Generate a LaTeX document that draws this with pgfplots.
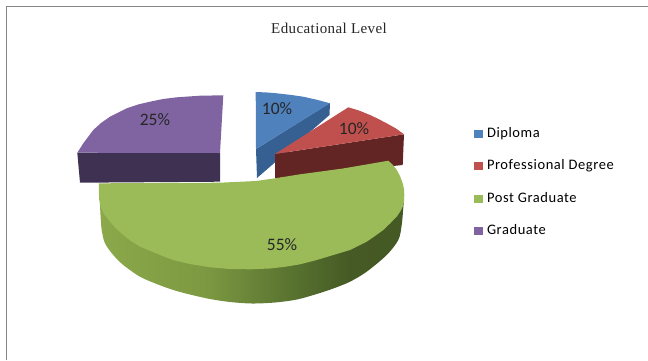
\documentclass[border=0pt]{standalone}
\usepackage{fontspec}
\setmainfont{Carlito}
\newfontfamily\titlefont[LetterSpace=2.7]{Liberation Serif}
\newfontfamily\legendfont[LetterSpace=4]{Carlito}
\usepackage{pgfplots}
\pgfplotsset{compat=1.18}
\definecolor{blueTop}{HTML}{4F81BD}
\definecolor{blueSide}{HTML}{376092}
\definecolor{redTop}{HTML}{C0504D}
\definecolor{redSide}{HTML}{632523}
\definecolor{greenTop}{HTML}{9BBB59}
\definecolor{purpleTop}{HTML}{8064A2}
\definecolor{purpleSide}{HTML}{3F3151}
\definecolor{frameGrey}{HTML}{868686}
\definecolor{rimA}{HTML}{8BA84A}
\definecolor{rimB}{HTML}{7D9A42}
\definecolor{rimC}{HTML}{556F2E}
\definecolor{rimD}{HTML}{465A25}
\definecolor{rimE}{HTML}{425422}
% rim of the large slice, lit from the left
\pgfdeclarehorizontalshading{greenrim}{100bp}{
  color(0bp)=(rimA);
  color(25bp)=(rimA);
  color(42bp)=(rimB);
  color(58bp)=(rimC);
  color(66bp)=(rimD);
  color(100bp)=(rimE)}
\begin{document}
\begin{tikzpicture}
\begin{axis}[
  scale only axis, width=648pt, height=360pt,
  xmin=0, xmax=648, ymin=0, ymax=360, y dir=reverse,
  axis lines=none, clip=true,
  legend cell align=left,
  legend image code/.code={\fill[#1] (0pt,-4pt) rectangle (9pt,4pt); \path (13pt,0pt);},
  legend style={at={(axis cs:474,127)}, anchor=north west, draw=none, fill=none,
    inner sep=0pt, outer sep=0pt, row sep=19.6pt, font=\legendfont\fontsize{14.5}{16}\selectfont,
    nodes={inner sep=0pt, text height=10pt, text depth=3pt},
    /tikz/every even column/.append style={column sep=0pt}},
]
% page extent, nothing visible
\addplot[draw=none, forget plot] coordinates {(0,0) (648,360)};
% chart frame
\addplot[frameGrey, line width=0.9pt, forget plot] coordinates {(6.5,360) (6.5,6.5) (648,6.5)};

% Diploma, 10%
\addplot[blueSide, fill=blueSide, draw=none, forget plot] coordinates {
  (256,149) (330,103) (329.5,115) (257,178)} --cycle;
\addplot[blueTop, fill=blueTop, draw=none] coordinates {
  (255.7,92) (266,92.4) (276.7,93.3) (290,94.8) (303.3,96.7) (317,99.8) (330,103.3) (256,149)} --cycle;
\addlegendentry{Diploma}

% Professional Degree, 10%
\addplot[redSide, fill=redSide, draw=none, forget plot] coordinates {
  (275,154) (404,134.3) (402.7,165) (275,178.3)} --cycle;
\addplot[redTop, fill=redTop, draw=none] coordinates {
  (275,154) (348.3,107.3) (359,110.5) (370,115) (378,118.8) (386.7,123.3) (396,128.5) (404,134.3)} --cycle;
\addlegendentry{Professional Degree}

% Post Graduate, 55%
\addplot[draw=none, smooth, shading=greenrim, forget plot] coordinates {
  (99.5,195) (100.5,215) (101.7,230) (105,243.3) (113.3,255) (123.3,265) (140,276.7) (156.7,284)
  (173.3,290) (190,294.5) (210,299) (230,302) (252,303.5) (275,302.5) (297,299.5)
  (316.7,294) (333.3,288.5) (350,281.7) (366.7,271.7) (386.7,255) (398.3,240) (401.7,225)
  (403.5,205) (404,195)} --cycle;
\addplot[greenTop, fill=greenTop, draw=none] coordinates {
  (99,183.3) (98.8,192) (99.3,200) (101,208.3) (105,215.5) (110,221.7) (116,228.5) (123.3,235)
  (131,241) (140,246.5) (148,250) (156.7,253.5) (165,257) (173.3,260) (190,264) (210,267.3)
  (230,269) (250,269.3) (270,268.5) (285,266.8) (300,264.3) (316.7,260) (333.3,255) (350,250)
  (358,246) (366.7,241.7) (375,236) (383.3,230) (390,223.5) (396.7,216.7) (400.5,211) (402.7,206.7)
  (404,201) (404.3,195) (404,189) (402.7,183.3) (400,176) (396.7,170) (393,165) (388.3,160.7)
  (343,168.5) (300,174.3) (275,178.3) (256,181) (220,182.7)} --cycle;
\addlegendentry{Post Graduate}

% Graduate, 25%
\addplot[purpleSide, fill=purpleSide, draw=none, forget plot] coordinates {
  (77.3,152.7) (220,153) (220,181.7) (80,182.7)} --cycle;
\addplot[purpleTop, fill=purpleTop, draw=none] coordinates {
  (77.3,152.7) (83.3,143.3) (93.3,130) (101,123) (110,116.7) (126.7,108.3) (138,104.5) (150,101.7)
  (163,99) (176.7,97.3) (200,95.7) (223.3,95.3) (220,153)} --cycle;
\addlegendentry{Graduate}

% title and share labels
\node[font=\titlefont\fontsize{15}{17}\selectfont, text=black!85] at (axis cs:329,28) {Educational Level};
\node[font=\fontsize{17.5}{19}\selectfont, text=black!85] at (axis cs:277,109) {10\%};
\node[font=\fontsize{17.5}{19}\selectfont, text=black!85] at (axis cs:354,128.5) {10\%};
\node[font=\fontsize{17.5}{19}\selectfont, text=black!85] at (axis cs:282,245) {55\%};
\node[font=\fontsize{17.5}{19}\selectfont, text=black!85] at (axis cs:155,120) {25\%};
\end{axis}
\end{tikzpicture}
\end{document}
